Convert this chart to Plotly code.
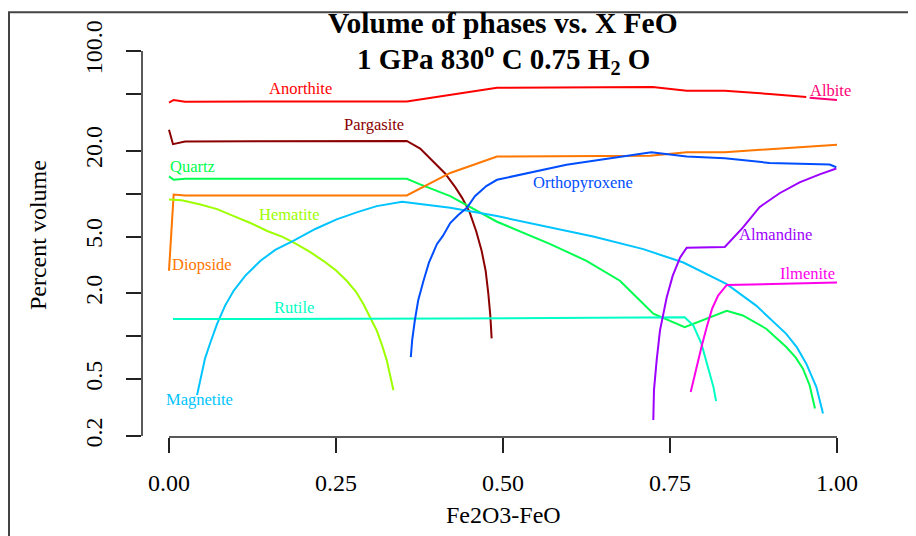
import math
import plotly.graph_objects as go

# ---------------- data (X = Fe2O3-FeO, volume %) ----------------
anorthite_x = [0.0, 0.007, 0.024, 0.356, 0.491, 0.724, 0.775, 0.832, 0.899, 0.954]
anorthite_y = [43.4, 45.3, 44.1, 44.2, 55.2, 55.8, 52.6, 52.6, 49.9, 47.6]

albite_x = [0.959, 1.0]
albite_y = [47.0, 45.3]

pargasite_x = [0.0, 0.006, 0.024, 0.356, 0.376, 0.396, 0.413, 0.429, 0.439, 0.450, 0.460,
               0.468, 0.474, 0.478, 0.481, 0.483]
pargasite_y = [28.0, 22.2, 23.2, 23.4, 20.7, 16.8, 13.9, 11.0, 9.30, 7.42, 5.42,
               3.98, 2.88, 2.00, 1.40, 0.966]

quartz_x = [0.0, 0.007, 0.024, 0.356, 0.376, 0.421, 0.491, 0.570, 0.625, 0.675, 0.710, 0.725,
            0.772, 0.835, 0.859, 0.894, 0.924, 0.938, 0.949, 0.959, 0.967]
quartz_y = [13.2, 12.5, 12.7, 12.7, 11.6, 9.59, 6.35, 4.44, 3.38, 2.45, 1.69, 1.44,
            1.16, 1.51, 1.40, 1.13, 0.84, 0.711, 0.593, 0.454, 0.312]

diopside_x = [0.0, 0.007, 0.024, 0.356, 0.421, 0.491, 0.720, 0.775, 0.832, 1.0]
diopside_y = [2.88, 9.86, 9.70, 9.70, 13.95, 18.2, 18.4, 19.5, 19.5, 22.0]

hematite_x = [0.0, 0.019, 0.047, 0.072, 0.097, 0.122, 0.147, 0.170, 0.191, 0.211, 0.231,
              0.249, 0.266, 0.280, 0.291, 0.301, 0.311, 0.319, 0.326, 0.331, 0.336]
hematite_y = [9.10, 8.99, 8.39, 7.78, 6.96, 6.22, 5.47, 4.97, 4.42, 3.90, 3.38,
              2.92, 2.45, 2.05, 1.685, 1.374, 1.098, 0.863, 0.678, 0.533, 0.419]

magnetite_x = [0.042, 0.047, 0.054, 0.062, 0.072, 0.084, 0.097, 0.114, 0.137, 0.159, 0.186,
               0.219, 0.251, 0.282, 0.311, 0.349, 0.421, 0.491, 0.635, 0.710, 0.770, 0.835,
               0.879, 0.924, 0.940, 0.954, 0.962, 0.969, 0.974, 0.979]
magnetite_y = [0.387, 0.508, 0.700, 0.905, 1.22, 1.64, 2.09, 2.65, 3.38, 4.03, 4.66,
               5.65, 6.60, 7.42, 8.17, 8.75, 7.95, 6.96, 5.0, 4.08, 3.29, 2.32,
               1.64, 1.04, 0.836, 0.643, 0.533, 0.442, 0.357, 0.288]

rutile_x = [0.006, 0.421, 0.772, 0.785, 0.797, 0.807, 0.815, 0.819]
rutile_y = [1.32, 1.33, 1.36, 1.19, 0.887, 0.609, 0.442, 0.351]

opx_x = [0.362, 0.364, 0.368, 0.373, 0.381, 0.389, 0.401, 0.410, 0.421, 0.433, 0.446, 0.458,
         0.475, 0.491, 0.595, 0.722, 0.775, 0.832, 0.899, 0.989, 0.999]
opx_y = [0.715, 0.935, 1.29, 1.78, 2.45, 3.27, 4.42, 5.05, 6.22, 7.07, 7.95, 9.59,
         11.3, 12.5, 15.95, 19.5, 18.2, 17.7, 16.4, 16.0, 15.3]

almandine_x = [0.725, 0.726, 0.730, 0.735, 0.745, 0.750, 0.754, 0.765, 0.775, 0.832, 0.859,
               0.884, 0.914, 0.944, 0.974, 0.999]
almandine_y = [0.259, 0.419, 0.678, 1.10, 1.87, 2.26, 2.65, 3.56, 4.18, 4.23, 5.77,
               8.04, 10.06, 12.0, 13.65, 15.0]

ilmenite_x = [0.781, 0.790, 0.797, 0.805, 0.813, 0.822, 0.835, 1.0]
ilmenite_y = [0.407, 0.626, 0.839, 1.16, 1.56, 1.93, 2.29, 2.38]

x_ticks = [0.0, 0.25, 0.5, 0.75, 1.0]
x_tick_labels = ["0.00", "0.25", "0.50", "0.75", "1.00"]
y_ticks = [0.2, 0.5, 2, 5, 20, 100]
y_tick_labels = ["0.2", "0.5", "2.0", "5.0", "20.0", "100.0"]
y_minor_ticks = [1, 10, 50]

# ---------------- styling ----------------
series = [
    ("Anorthite", anorthite_x, anorthite_y, "#FF0000", (0.197, 54.1)),
    ("Albite", albite_x, albite_y, "#FF0076", (0.990, 52.4)),
    ("Pargasite", pargasite_x, pargasite_y, "#8B0000", (0.307, 30.3)),
    ("Quartz", quartz_x, quartz_y, "#00FF4E", (0.035, 15.5)),
    ("Diopside", diopside_x, diopside_y, "#FF7600", (0.049, 3.21)),
    ("Hematite", hematite_x, hematite_y, "#9DFF00", (0.180, 7.14)),
    ("Magnetite", magnetite_x, magnetite_y, "#00C4FF", (0.045, 0.361)),
    ("Rutile", rutile_x, rutile_y, "#00FFC4", (0.187, 1.60)),
    ("Orthopyroxene", opx_x, opx_y, "#004EFF", (0.620, 11.9)),
    ("Almandine", almandine_x, almandine_y, "#9D00FF", (0.908, 5.19)),
    ("Ilmenite", ilmenite_x, ilmenite_y, "#FF00EB", (0.956, 2.75)),
]

SERIF = "Liberation Serif, Times New Roman, serif"
OFF = 8                      # page body margin of the html page
W, H = 916 - OFF, 536 - OFF
ML, MR, MT, MB = 134, 52, 32, 99
PW = W - ML - MR
PH = H - MT - MB

y_lo = math.log10(0.2) - 1 / 143.4
y_hi = y_lo + PH / 143.4
x_lo, x_hi = -0.0404, 1.0404


def px(pix):
    """screen x pixel -> paper x"""
    return (pix - OFF - ML) / PW


def py(pix):
    """screen y pixel -> paper y"""
    return (H - MB - (pix - OFF)) / PH


fig = go.Figure()
annotations = []
for name, xs, ys, color, (lx, ly) in series:
    fig.add_trace(go.Scatter(x=xs, y=ys, mode="lines", name=name,
                             line=dict(color=color, width=2), hoverinfo="x+y+name"))
    annotations.append(dict(x=lx, y=math.log10(ly), xref="x", yref="y", text=name,
                            showarrow=False, font=dict(family=SERIF, size=16.5, color=color),
                            xanchor="center", yanchor="middle"))

# Title lines
annotations.append(dict(x=0.5, y=py(21), xref="paper", yref="paper", showarrow=False,
                        text="<b>Volume of phases vs. X FeO</b>",
                        font=dict(family=SERIF, size=29.5, color="black"),
                        xanchor="center", yanchor="middle"))
annotations.append(dict(x=0.5, y=py(57), xref="paper", yref="paper", showarrow=False,
                        text="<b>1 GPa 830<sup>o</sup> C 0.75 H<sub>2</sub> O</b>",
                        font=dict(family=SERIF, size=29, color="black"),
                        xanchor="center", yanchor="middle"))
# Axis titles
annotations.append(dict(x=0.5, y=py(515), xref="paper", yref="paper", showarrow=False,
                        text="Fe2O3-FeO", font=dict(family=SERIF, size=24, color="black"),
                        xanchor="center", yanchor="middle"))
annotations.append(dict(x=px(38), y=py(234), xref="paper", yref="paper", showarrow=False,
                        text="Percent volume", textangle=-90,
                        font=dict(family=SERIF, size=24, color="black"),
                        xanchor="center", yanchor="middle"))


def ypaper(v):
    return (math.log10(v) - y_lo) / (y_hi - y_lo)


shapes = [
    # x axis line from first to last tick
    dict(type="line", xref="x", yref="paper", x0=x_ticks[0], x1=x_ticks[-1], y0=0, y1=0,
         line=dict(color="#222", width=1.5)),
    # y axis line from first to last tick
    dict(type="line", xref="paper", yref="paper", x0=0, x1=0,
         y0=ypaper(y_ticks[0]), y1=ypaper(y_ticks[-1]), line=dict(color="#222", width=1.5)),
    # outer frame
    dict(type="rect", xref="paper", yref="paper", x0=px(9), x1=px(911), y0=py(10), y1=py(560),
         line=dict(color="#444", width=2), fillcolor="rgba(0,0,0,0)", layer="above"),
]

fig.update_layout(
    width=W, height=H,
    margin=dict(l=ML, r=MR, t=MT, b=MB),
    plot_bgcolor="white", paper_bgcolor="white",
    showlegend=False,
    annotations=annotations,
    shapes=shapes,
    xaxis=dict(range=[x_lo, x_hi], showgrid=False, zeroline=False, showline=False,
               tickvals=x_ticks, ticktext=x_tick_labels, ticks="outside", ticklen=15,
               tickwidth=1.5, tickcolor="#222", ticklabelstandoff=9,
               tickfont=dict(family=SERIF, size=24, color="black")),
    yaxis=dict(type="log", range=[y_lo, y_hi], showgrid=False, zeroline=False, showline=False,
               tickvals=y_ticks, ticktext=y_tick_labels, ticks="outside", ticklen=15,
               tickwidth=1.5, tickcolor="#222", tickangle=-90, ticklabelstandoff=14,
               tickfont=dict(family=SERIF, size=24, color="black"),
               minor=dict(tickmode="array", tickvals=y_minor_ticks, ticks="outside",
                          ticklen=15, tickwidth=1.5, tickcolor="#222", showgrid=False)),
)

fig.write_html("out.html")
